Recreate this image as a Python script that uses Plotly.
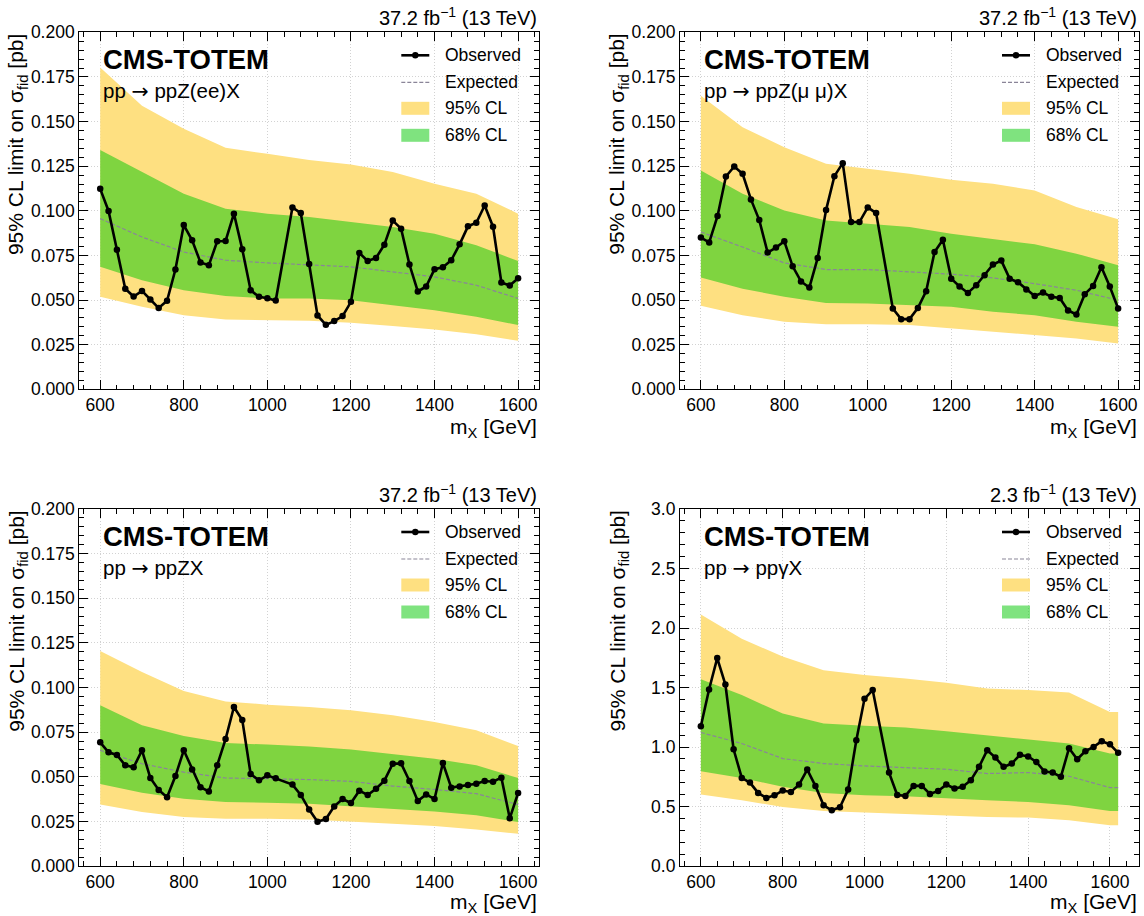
import plotly.graph_objects as go

FONT = "Liberation Sans, Arial, Helvetica, sans-serif"
ARROW = '<span style="font-family:DejaVu Sans">→</span>'

# ---------------- data ----------------
# observed mass points (1040 GeV point absent in all channels)
mass_z = [600, 620, 640, 660, 680, 700, 720, 740, 760, 780, 800, 820, 840, 860, 880, 900,
          920, 940, 960, 980, 1000, 1020, 1060, 1080, 1100, 1120, 1140, 1160, 1180, 1200,
          1220, 1240, 1260, 1280, 1300, 1320, 1340, 1360, 1380, 1400, 1420, 1440, 1460,
          1480, 1500, 1520, 1540, 1560, 1580, 1600]
mass_g = mass_z + [1620]

band_mass_z = [600, 700, 800, 900, 1000, 1100, 1200, 1300, 1400, 1500, 1600]
band_mass_g = [600, 700, 800, 900, 1000, 1100, 1200, 1300, 1400, 1500, 1600, 1620]

# pp -> ppZ(ee)X
ee_obs = [0.1123, 0.0999, 0.0782, 0.0563, 0.0520, 0.0551, 0.0503, 0.0455, 0.0496, 0.0671,
          0.0920, 0.0835, 0.0710, 0.0695, 0.0829, 0.0831, 0.0984, 0.0784, 0.0555, 0.0518,
          0.0510, 0.0497, 0.1019, 0.0987, 0.0702, 0.0414, 0.0361, 0.0382, 0.0410, 0.0490,
          0.0764, 0.0719, 0.0736, 0.0810, 0.0945, 0.0900, 0.0699, 0.0548, 0.0576, 0.0673,
          0.0684, 0.0723, 0.0812, 0.0913, 0.0933, 0.1030, 0.0911, 0.0598, 0.0581, 0.0622]
ee_exp = [0.0956, 0.0853, 0.0769, 0.0723, 0.0708, 0.0699, 0.0686, 0.0658, 0.0630, 0.0583, 0.0509]
ee_68_hi = [0.1341, 0.1217, 0.1095, 0.1012, 0.0984, 0.0965, 0.0937, 0.0909, 0.0872, 0.0807, 0.0719]
ee_68_lo = [0.0686, 0.0611, 0.0555, 0.0522, 0.0509, 0.0509, 0.0499, 0.0471, 0.0443, 0.0406, 0.0360]
ee_95_hi = [0.1803, 0.1589, 0.1459, 0.1353, 0.1319, 0.1285, 0.1259, 0.1217, 0.1151, 0.1095, 0.0984]
ee_95_lo = [0.0518, 0.0462, 0.0415, 0.0391, 0.0388, 0.0384, 0.0373, 0.0354, 0.0335, 0.0309, 0.0272]

# pp -> ppZ(mumu)X
mm_obs = [0.0850, 0.0823, 0.0971, 0.1192, 0.1248, 0.1207, 0.1064, 0.0948, 0.0766, 0.0794,
          0.0829, 0.0689, 0.0604, 0.0570, 0.0736, 0.1004, 0.1194, 0.1267, 0.0937, 0.0937,
          0.1019, 0.0987, 0.0453, 0.0393, 0.0393, 0.0455, 0.0550, 0.0769, 0.0838, 0.0620,
          0.0576, 0.0540, 0.0583, 0.0639, 0.0699, 0.0721, 0.0620, 0.0600, 0.0559, 0.0523,
          0.0542, 0.0518, 0.0512, 0.0442, 0.0419, 0.0533, 0.0579, 0.0684, 0.0576, 0.0453]
mm_exp = [0.0881, 0.0797, 0.0708, 0.0671, 0.0671, 0.0658, 0.0645, 0.0624, 0.0592, 0.0555, 0.0499]
mm_68_hi = [0.1226, 0.1095, 0.1002, 0.0946, 0.0928, 0.0909, 0.0872, 0.0844, 0.0812, 0.0760, 0.0695]
mm_68_lo = [0.0626, 0.0564, 0.0518, 0.0484, 0.0481, 0.0471, 0.0462, 0.0434, 0.0415, 0.0378, 0.0350]
mm_95_hi = [0.1645, 0.1468, 0.1356, 0.1263, 0.1235, 0.1207, 0.1174, 0.1151, 0.1114, 0.1021, 0.0952]
mm_95_lo = [0.0468, 0.0415, 0.0378, 0.0365, 0.0365, 0.0360, 0.0341, 0.0322, 0.0304, 0.0285, 0.0257]

# pp -> ppZX (combined)
zz_obs = [0.0693, 0.0637, 0.0622, 0.0564, 0.0553, 0.0648, 0.0493, 0.0426, 0.0385, 0.0504,
          0.0648, 0.0541, 0.0441, 0.0418, 0.0564, 0.0711, 0.0891, 0.0818, 0.0515, 0.0480,
          0.0508, 0.0491, 0.0456, 0.0398, 0.0316, 0.0248, 0.0263, 0.0334, 0.0375, 0.0353,
          0.0422, 0.0398, 0.0433, 0.0478, 0.0573, 0.0575, 0.0476, 0.0364, 0.0401, 0.0375,
          0.0577, 0.0439, 0.0446, 0.0454, 0.0461, 0.0476, 0.0472, 0.0495, 0.0267, 0.0409]
zz_exp = [0.0648, 0.0573, 0.0526, 0.0493, 0.0489, 0.0484, 0.0474, 0.0448, 0.0429, 0.0405, 0.0344]
zz_68_hi = [0.0900, 0.0788, 0.0728, 0.0689, 0.0680, 0.0670, 0.0653, 0.0629, 0.0601, 0.0564, 0.0493]
zz_68_lo = [0.0459, 0.0411, 0.0377, 0.0358, 0.0355, 0.0349, 0.0336, 0.0321, 0.0306, 0.0284, 0.0246]
zz_95_hi = [0.1204, 0.1087, 0.0980, 0.0922, 0.0904, 0.0891, 0.0872, 0.0844, 0.0807, 0.0760, 0.0672]
zz_95_lo = [0.0344, 0.0302, 0.0274, 0.0265, 0.0265, 0.0261, 0.0250, 0.0237, 0.0224, 0.0204, 0.0181]

# pp -> pp gamma X
gg_obs = [1.175, 1.483, 1.747, 1.525, 0.981, 0.740, 0.701, 0.614, 0.572, 0.594, 0.634,
          0.622, 0.684, 0.810, 0.673, 0.510, 0.468, 0.494, 0.642, 1.057, 1.405, 1.478,
          0.785, 0.597, 0.589, 0.673, 0.673, 0.606, 0.631, 0.684, 0.651, 0.665, 0.721,
          0.833, 0.973, 0.911, 0.833, 0.861, 0.934, 0.920, 0.875, 0.794, 0.785, 0.749,
          0.990, 0.897, 0.965, 1.001, 1.049, 1.023, 0.951]
gg_exp = [1.122, 1.029, 0.903, 0.861, 0.841, 0.824, 0.813, 0.777, 0.785, 0.754, 0.659, 0.659]
gg_68_hi = [1.570, 1.436, 1.281, 1.197, 1.178, 1.164, 1.133, 1.099, 1.063, 1.029, 0.945, 0.945]
gg_68_lo = [0.796, 0.740, 0.665, 0.614, 0.594, 0.586, 0.572, 0.552, 0.538, 0.510, 0.463, 0.463]
gg_95_hi = [2.114, 1.910, 1.760, 1.646, 1.604, 1.576, 1.539, 1.492, 1.478, 1.458, 1.295, 1.295]
gg_95_lo = [0.600, 0.552, 0.496, 0.463, 0.449, 0.440, 0.426, 0.412, 0.407, 0.384, 0.342, 0.342]

panels = [
    dict(proc="pp " + ARROW + " ppZ(ee)X", lumi="37.2 fb<sup>−1</sup> (13 TeV)", m=mass_z, obs=ee_obs,
         bm=band_mass_z, exp=ee_exp, h68=ee_68_hi, l68=ee_68_lo, h95=ee_95_hi, l95=ee_95_lo,
         yr=[0, 0.2], dt=0.025, mdt=0.005, fmt=".3f", xr=[550, 1650]),
    dict(proc="pp " + ARROW + " ppZ(μ μ)X", lumi="37.2 fb<sup>−1</sup> (13 TeV)", m=mass_z, obs=mm_obs,
         bm=band_mass_z, exp=mm_exp, h68=mm_68_hi, l68=mm_68_lo, h95=mm_95_hi, l95=mm_95_lo,
         yr=[0, 0.2], dt=0.025, mdt=0.005, fmt=".3f", xr=[550, 1650]),
    dict(proc="pp " + ARROW + " ppZX", lumi="37.2 fb<sup>−1</sup> (13 TeV)", m=mass_z, obs=zz_obs,
         bm=band_mass_z, exp=zz_exp, h68=zz_68_hi, l68=zz_68_lo, h95=zz_95_hi, l95=zz_95_lo,
         yr=[0, 0.2], dt=0.025, mdt=0.005, fmt=".3f", xr=[550, 1650]),
    dict(proc="pp " + ARROW + " ppγX", lumi="2.3 fb<sup>−1</sup> (13 TeV)", m=mass_g, obs=gg_obs,
         bm=band_mass_g, exp=gg_exp, h68=gg_68_hi, l68=gg_68_lo, h95=gg_95_hi, l95=gg_95_lo,
         yr=[0, 3.0], dt=0.5, mdt=0.1, fmt=".1f", xr=[549, 1671]),
]

# ---------------- layout geometry (pixels) ----------------
W, H = 1144, 916
px_x = [(79.3, 539.0), (680.0, 1139.0), (79.3, 539.0), (680.0, 1139.0)]
px_y = [(32.3, 389.3), (32.3, 389.3), (509.0, 866.0), (509.0, 866.0)]
title_shift = [-24, -24, -22, -22]

YELLOW = "#FEE081"
GREEN = "rgba(0,200,0,0.5)"
EXPCOL = "#8a8598"
EXPDASH = "4px,2px"

fig = go.Figure()
shapes = []
annotations = []

for i, p in enumerate(panels):
    k = "" if i == 0 else str(i + 1)
    xa, ya = "x" + k, "y" + k
    # 95% band
    fig.add_trace(go.Scatter(x=p["bm"] + p["bm"][::-1], y=p["h95"] + p["l95"][::-1],
                             fill="toself", fillcolor=YELLOW, line=dict(width=0),
                             mode="lines", hoverinfo="skip", showlegend=False,
                             xaxis=xa, yaxis=ya))
    # 68% band
    fig.add_trace(go.Scatter(x=p["bm"] + p["bm"][::-1], y=p["h68"] + p["l68"][::-1],
                             fill="toself", fillcolor=GREEN, line=dict(width=0),
                             mode="lines", hoverinfo="skip", showlegend=False,
                             xaxis=xa, yaxis=ya))
    # expected
    fig.add_trace(go.Scatter(x=p["bm"], y=p["exp"], mode="lines",
                             line=dict(color=EXPCOL, width=1.2, dash=EXPDASH),
                             showlegend=False, xaxis=xa, yaxis=ya))
    # observed
    fig.add_trace(go.Scatter(x=p["m"], y=p["obs"], mode="lines+markers",
                             line=dict(color="black", width=2.6),
                             marker=dict(color="black", size=6.5),
                             showlegend=False, xaxis=xa, yaxis=ya))

    x0, x1 = px_x[i]
    y0, y1 = px_y[i]
    axw, axh = x1 - x0, y1 - y0
    common = dict(ticks="inside", mirror="allticks", showline=True, linecolor="black",
                  linewidth=1.2, tickcolor="black", tickwidth=1, ticklen=9,
                  showgrid=True, gridcolor="#d2d2d2", griddash="1px,2px", gridwidth=1,
                  zeroline=False, automargin=False,
                  tickfont=dict(family=FONT, size=17.5, color="black"))
    fig.layout["xaxis" + k] = dict(
        domain=[x0 / W, x1 / W], range=p["xr"], anchor=ya, tick0=0, dtick=200,
        minor=dict(ticks="inside", dtick=40, ticklen=4.5, tickcolor="black", showgrid=False),
        **common)
    fig.layout["yaxis" + k] = dict(
        domain=[1 - y1 / H, 1 - y0 / H], range=p["yr"], anchor=xa, tick0=0, dtick=p["dt"],
        tickformat=p["fmt"],
        minor=dict(ticks="inside", dtick=p["mdt"], ticklen=4.5, tickcolor="black", showgrid=False),
        **common)

    xd, yd = xa + " domain", ya + " domain"

    def fx(px):
        return (px) / axw

    def fy(px):
        return 1 - px / axh

    # texts
    annotations.append(dict(xref=xd, yref=yd, x=1, y=1, xanchor="right", yanchor="bottom",
                            yshift=1, text=p["lumi"], showarrow=False,
                            font=dict(family=FONT, size=20, color="black")))
    annotations.append(dict(xref=xd, yref=yd, x=1, y=0, xanchor="right", yanchor="top",
                            yshift=title_shift[i], text="m<sub>X</sub> [GeV]", showarrow=False,
                            font=dict(family=FONT, size=21, color="black")))
    annotations.append(dict(xref="paper", yref="paper", x=(x0 - 62) / W, y=1 - y0 / H,
                            xanchor="center", yanchor="top", textangle=-90,
                            text="95% CL limit on σ<sub>fid</sub> [pb]", showarrow=False,
                            font=dict(family=FONT, size=21, color="black")))
    annotations.append(dict(xref=xd, yref=yd, x=fx(22), y=fy(27), xanchor="left",
                            yanchor="middle", text="<b>CMS-TOTEM</b>", showarrow=False,
                            font=dict(family=FONT, size=27.5, color="black")))
    annotations.append(dict(xref=xd, yref=yd, x=fx(22), y=fy(59), xanchor="left",
                            yanchor="middle", text=p["proc"], showarrow=False,
                            font=dict(family=FONT, size=20.5, color="black")))

    # legend (drawn in axis-domain coordinates)
    lx0, lx1, ltx = fx(322), fx(350), fx(364)
    rows = [fy(23), fy(50), fy(76), fy(103)]
    labels = ["Observed", "Expected", "95% CL", "68% CL"]
    for r, lab in zip(rows, labels):
        annotations.append(dict(xref=xd, yref=yd, x=ltx, y=r, xanchor="left",
                                yanchor="middle", text=lab, showarrow=False,
                                font=dict(family=FONT, size=17.5, color="black")))
    shapes.append(dict(type="line", xref=xd, yref=yd, x0=lx0, x1=lx1, y0=rows[0], y1=rows[0],
                       line=dict(color="black", width=2.6)))
    cx, cy = (lx0 + lx1) / 2, rows[0]
    shapes.append(dict(type="circle", xref=xd, yref=yd, x0=cx - 3.2 / axw, x1=cx + 3.2 / axw,
                       y0=cy - 3.2 / axh, y1=cy + 3.2 / axh, fillcolor="black",
                       line=dict(color="black", width=0)))
    shapes.append(dict(type="line", xref=xd, yref=yd, x0=lx0, x1=lx1, y0=rows[1], y1=rows[1],
                       line=dict(color=EXPCOL, width=1.2, dash=EXPDASH)))
    shapes.append(dict(type="rect", xref=xd, yref=yd, x0=lx0, x1=lx1,
                       y0=rows[2] - 6.5 / axh, y1=rows[2] + 6.5 / axh, fillcolor=YELLOW,
                       line=dict(width=0)))
    shapes.append(dict(type="rect", xref=xd, yref=yd, x0=lx0, x1=lx1,
                       y0=rows[3] - 6.5 / axh, y1=rows[3] + 6.5 / axh, fillcolor=GREEN,
                       line=dict(width=0)))

fig.update_layout(width=W, height=H,
                  margin=dict(l=0, r=0, t=0, b=0, pad=0, autoexpand=False),
                  paper_bgcolor="white", plot_bgcolor="white",
                  font=dict(family=FONT, color="black"),
                  showlegend=False, shapes=shapes, annotations=annotations)

fig.write_html("out.html", config={"displayModeBar": False},
               post_script="document.body.style.margin='0px';"
                           "document.body.style.overflow='hidden';"
                           "document.documentElement.style.overflow='hidden';")
